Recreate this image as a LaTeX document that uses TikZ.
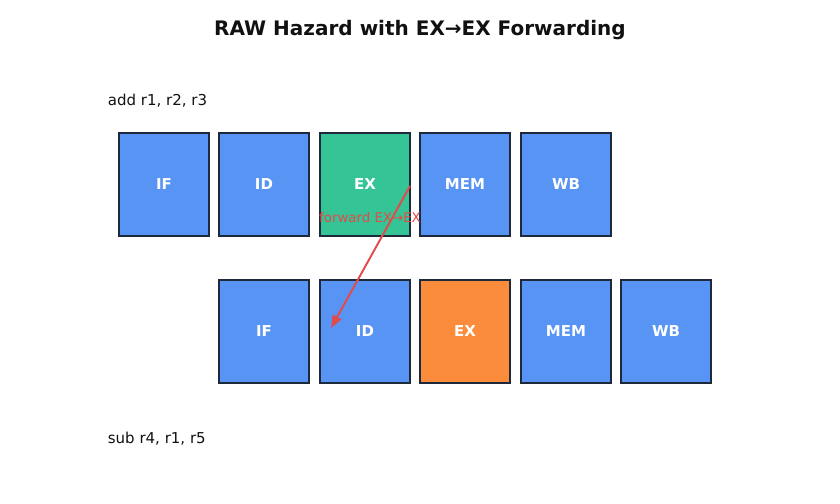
\documentclass[tikz,border=0pt]{standalone}
\usepackage{fontspec}
\setmainfont{DejaVu Sans}
\usetikzlibrary{arrows.meta, positioning}
\definecolor{stage}{RGB}{88, 148, 244}
\definecolor{exsrc}{RGB}{52, 196, 149}
\definecolor{exdst}{RGB}{250, 140, 60}
\definecolor{dark}{RGB}{30, 41, 59}
\definecolor{fwd}{RGB}{228, 74, 74}
\definecolor{ink}{RGB}{17, 17, 17}
\tikzset{
    box/.style={rectangle, draw=dark, line width=0.9pt, fill=stage, text=white, font=\fontsize{10.8}{12}\selectfont\bfseries, minimum width=64.8pt, minimum height=74.2pt, inner sep=0pt},
    instr/.style={anchor=west, text=ink, font=\fontsize{10.8}{12}\selectfont},
    arr/.style={-{Stealth[length=3.2mm, width=2.4mm, inset=0pt]}, line width=1.4pt, fwd}
}
\begin{document}
\begin{tikzpicture}[x=0.72pt, y=-0.72pt]
        \useasboundingbox[fill=white] (0,0) rectangle (840,504);
        \node[font=\fontsize{14.4}{16}\selectfont\bfseries, text=ink] (title) at (420,30.5) {RAW Hazard with EX→EX Forwarding};
        \node[instr] (add) at (103,100.5) {add r1, r2, r3};
        \node[instr] (sub) at (103,438.5) {sub r4, r1, r5};

        % first instruction
        \node[box] (if1) at (164,184.5) {IF};
        \node[box] (id1) at (264,184.5) {ID};
        \node[box, fill=exsrc] (ex1) at (365,184.5) {EX};
        \node[box] (mem1) at (465,184.5) {MEM};
        \node[box] (wb1) at (566,184.5) {WB};

        % second instruction, one cycle later
        \node[box] (if2) at (264,331.5) {IF};
        \node[box] (id2) at (365,331.5) {ID};
        \node[box, fill=exdst] (ex2) at (465,331.5) {EX};
        \node[box] (mem2) at (566,331.5) {MEM};
        \node[box] (wb2) at (666,331.5) {WB};

        \coordinate (fwdsrc) at (410,186);
        \coordinate (fwddst) at (331,328);
        \draw[arr] (fwdsrc) -- (fwddst);
        \node[text=fwd, font=\fontsize{9.6}{11}\selectfont] (fwdlbl) at (370,218) {forward EX→EX};
    \end{tikzpicture}
\end{document}
